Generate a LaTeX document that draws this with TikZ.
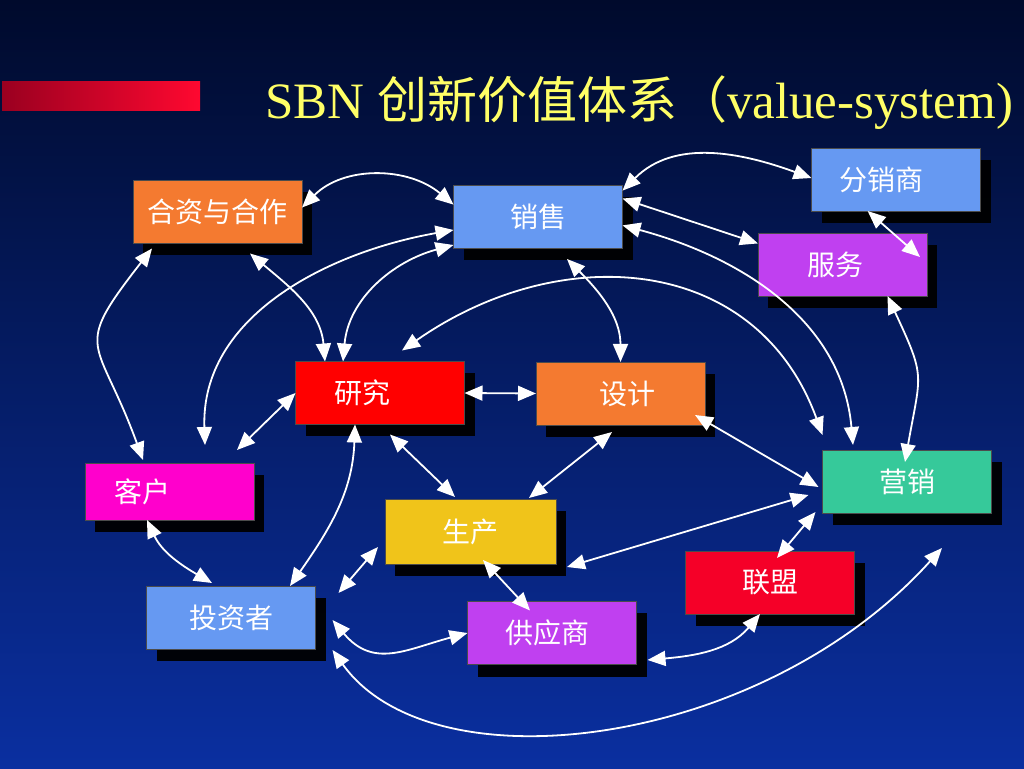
\documentclass[tikz,border=0pt]{standalone}
\usepackage{fontspec}
\setmainfont{Liberation Serif}
\newfontfamily\cjk{Noto Sans CJK SC}
\usetikzlibrary{arrows.meta,shadows}

\definecolor{bgtop}{HTML}{000A2C}
\definecolor{bgbot}{HTML}{0A2FA0}
\definecolor{barL}{HTML}{9A0020}
\definecolor{barR}{HTML}{FF0830}
\definecolor{titleyellow}{HTML}{FFFF66}
\definecolor{corange}{HTML}{F47A30}
\definecolor{cblue}{HTML}{6699F2}
\definecolor{cpurple}{HTML}{C040F0}
\definecolor{cred}{HTML}{FF0000}
\definecolor{cmagenta}{HTML}{FF00CC}
\definecolor{cgold}{HTML}{F0C41A}
\definecolor{cteal}{HTML}{36C99A}
\definecolor{ccrimson}{HTML}{F50028}

\begin{document}
\begin{tikzpicture}[x=1pt,y=1pt,
  box/.style={draw=black!70, line width=0.6pt, fill=#1, minimum width=169pt, minimum height=63pt,
    inner sep=0pt, outer sep=0pt, text=white, font=\cjk\fontsize{28}{34}\selectfont,
    drop shadow={shadow xshift=10pt, shadow yshift=-12pt, fill=black, opacity=0.95}},
  lshift/.style={execute at begin node={\hspace*{#1}}},
  link/.style={draw=white, line width=1.8pt, <->, >={Triangle[length=18pt,width=15pt]}}]
  % sfondo e titolo
  \shade[top color=bgtop, bottom color=bgbot] (0,0) rectangle (1024,768);
  \useasboundingbox (0,0) rectangle (1024,768);
  \shade[left color=barL, right color=barR] (2,657) rectangle (200,686);
  \node[anchor=base west, inner sep=0pt, text=titleyellow, font=\fontsize{51}{60}\selectfont] (title) at (265,649)
    {SBN {\cjk\fontsize{50}{60}\selectfont 创新价值体系（}value-system)};

  % i riquadri
  \node[box=corange] (hz) at (217.5,556) {合资与合作};
  \node[box=cblue] (xs) at (538,551.5) {销售};
  \node[box=cblue, lshift=-30pt] (fx) at (896,588.5) {分销商};
  \node[box=cpurple, lshift=-14pt] (fw) at (842.5,503.5) {服务};
  \node[box=cred, lshift=-36pt] (yj) at (380,375) {研究};
  \node[box=corange, lshift=14pt] (sj) at (620.5,374.5) {设计};
  \node[box=cmagenta, minimum height=57pt, lshift=-54pt] (kh) at (169.5,276.5) {客户};
  \node[box=cblue] (tz) at (231,150.5) {投资者};
  \node[box=cgold, minimum width=171pt, minimum height=65pt] (sc) at (470.5,236.5) {生产};
  \node[box=cpurple, lshift=-10pt] (gy) at (552,135) {供应商};
  \node[box=cteal] (yx) at (907,286.5) {营销};
  \node[box=ccrimson] (lm) at (770,185.5) {联盟};

  % frecce in alto
  \draw[link] (hz.3) to[out=45,in=140] (xs.172);
  \draw[link] (xs.17) to[out=45,in=160] (fx.179);
  \draw[link] (xs.12) -- (fw.166);
  \draw[link] (xs.-6) to[out=-15,in=95] ([xshift=-54,yshift=5]yx.north);
  \draw[link] (fx.-132) -- ([xshift=-7,yshift=7.5]fw.east);
  \draw[link] (fw.-35) to[out=-65,in=80,looseness=1.4] ([xshift=-2,yshift=-12]yx.north);
  \draw[link] ([xshift=22,yshift=11]yj.north) to[out=35,in=110,looseness=1.15] ([yshift=15]yx.north west);
  \draw[link] ([xshift=29,yshift=-11]xs.south) to[out=-45,in=90] (sj.north);
  \draw[link] (yj.east) -- (sj.west);
  \draw[link] ([xshift=32.5,yshift=-10]hz.south) to[out=-40,in=95] ([xshift=-55]yj.north);
  \draw[link] ([yshift=-28.5]xs.west) to[out=195,in=85] ([xshift=-37]yj.north);
  \draw[link] ([yshift=-13.5]xs.west) to[out=190,in=92] ([xshift=35.5,yshift=18]kh.north);
  \draw[link] ([xshift=-65.5,yshift=-5]hz.south) to[out=232,in=110,looseness=1.6] ([xshift=-26.5,yshift=3]kh.north);
  \draw[link] (yj.west) -- ([xshift=67.5,yshift=13]kh.north);
  % frecce in basso
  \draw[link] ([xshift=-22.5]kh.south) to[out=-65,in=150] ([xshift=-19,yshift=3]tz.north);
  \draw[link] ([xshift=-25]yj.south) to[out=-92,in=55] ([xshift=59]tz.north);
  \draw[link] ([xshift=10,yshift=-10]yj.south) -- ([xshift=-15.5,yshift=2]sc.north);
  \draw[link] ([xshift=-8.5,yshift=-7]sj.south) -- ([xshift=58.5,yshift=1]sc.north);
  \draw[link] ([xshift=-10,yshift=-21.5]sj.east) -- ([xshift=-4,yshift=-5.5]yx.west);
  \draw[link] ([xshift=11,yshift=-3]sc.south east) -- ([xshift=-14,yshift=-13.5]yx.west);
  \draw[link] ([xshift=-7,yshift=1]yx.south west) -- ([xshift=7,yshift=-7]lm.north);
  \draw[link] ([xshift=-10]lm.south) to[out=230,in=5] ([xshift=11,yshift=-27]gy.east);
  \draw[link] ([xshift=12.5,yshift=4]sc.south) -- ([xshift=-22,yshift=-9]gy.north);
  \draw[link] ([xshift=-7,yshift=-15.5]sc.west) -- ([xshift=23,yshift=-7]tz.north east);
  \draw[link] ([xshift=17,yshift=-2.5]tz.east) to[out=-50,in=195,looseness=1.2] (gy.west);
  \draw[link] ([xshift=17,yshift=-1]tz.south east) .. controls +(100,-140) and +(-180,-200) .. ([xshift=35,yshift=-35]yx.south);
\end{tikzpicture}
\end{document}
